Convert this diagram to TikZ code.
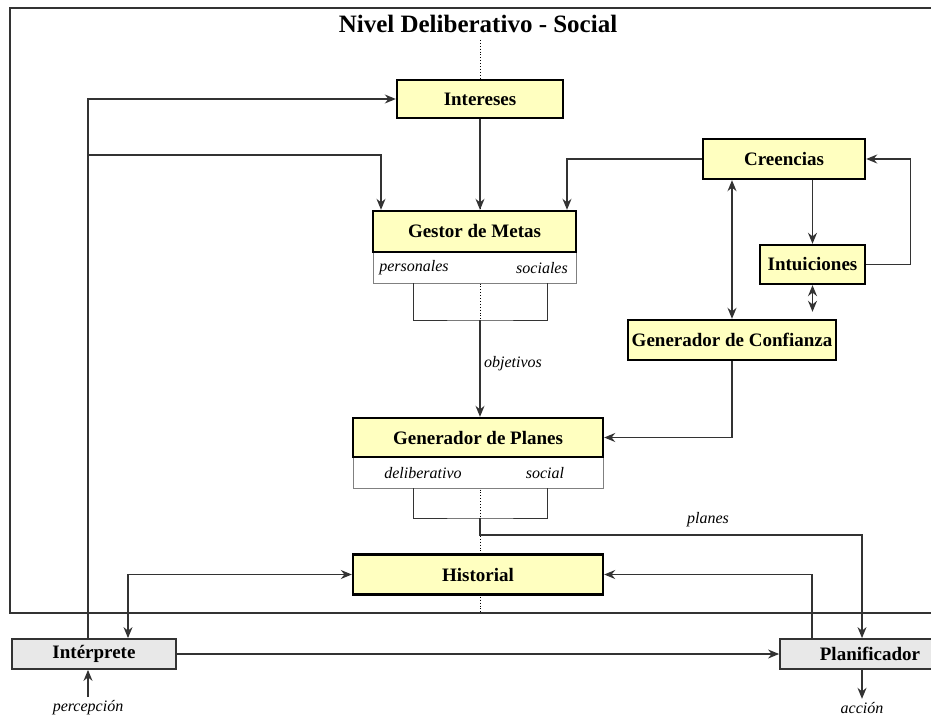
\documentclass[tikz,border=0pt]{standalone}
\usepackage{fontspec}
\setmainfont{Liberation Serif}
\usetikzlibrary{arrows.meta}
\definecolor{boxyellow}{HTML}{FFFFC0}
\definecolor{boxgrey}{HTML}{E8E8E8}
\definecolor{linegrey}{HTML}{333333}
\begin{document}
\begin{tikzpicture}[x=1pt, y=-1pt,
    yellowbox/.style={draw=black, line width=2.4pt, fill=boxyellow, inner sep=0pt,
      font=\fontsize{19}{21}\selectfont\bfseries},
    greybox/.style={draw=linegrey, line width=1.8pt, fill=boxgrey, inner sep=0pt,
      font=\fontsize{19}{21}\selectfont\bfseries},
    subbox/.style={draw=gray, line width=1pt, fill=white, inner sep=0pt},
    sublabel/.style={font=\fontsize{16}{18}\selectfont\itshape},
    wire/.style={draw=linegrey, line width=1.3pt},
    link/.style={wire, -{Stealth[length=11pt,width=9pt]}},
    twolink/.style={wire, {Stealth[length=11pt,width=9pt]}-{Stealth[length=11pt,width=9pt]}}]
  \useasboundingbox (0,0) rectangle (931,719);
  \clip (0,0) rectangle (931,719);

  % marco del nivel
  \draw[wire, line width=1.5pt] (10,8) rectangle (960,613);
  \node[font=\fontsize{25}{27}\selectfont\bfseries] (titulo) at (478,24) {Nivel Deliberativo - Social};
  \draw[dotted, line width=0.9pt] (480,40) -- (480,612);

  % cajas
  \node[yellowbox, minimum width=166pt, minimum height=38pt] (intereses) at (480,99) {Intereses};
  \node[subbox, minimum width=203pt, minimum height=31pt] (gestorsub) at (474.5,267.5) {};
  \node[yellowbox, minimum width=203pt, minimum height=41pt] (gestor) at (474.5,231.5) {Gestor de Metas};
  \node[sublabel] (personales) at (414,268) {personales};
  \node[sublabel] (sociales) at (542,268) {sociales};

  \node[yellowbox, minimum width=162pt, minimum height=40pt] (creencias) at (784,159) {Creencias};
  \node[yellowbox, minimum width=105pt, minimum height=39pt] (intuiciones) at (812.5,264.5) {Intuiciones};
  \node[yellowbox, minimum width=208pt, minimum height=40pt] (confianza) at (732,340) {Generador de Confianza};

  \node[subbox, minimum width=250pt, minimum height=31pt] (planessub) at (478,472.5) {};
  \node[yellowbox, minimum width=250pt, minimum height=39pt] (planes) at (478,437.5) {Generador de Planes};
  \node[sublabel] (deliberativo) at (423,473) {deliberativo};
  \node[sublabel] (social) at (545,473) {social};

  \node[yellowbox, minimum width=250pt, minimum height=40pt] (historial) at (478,574.5) {Historial};
  \node[greybox, minimum width=164pt, minimum height=30pt] (interprete) at (94,654) {Intérprete};
  \node[greybox, minimum width=180pt, minimum height=30pt] (planificador) at (870,654) {Planificador};

  \node[sublabel] (percepcion) at (88,708) {percepción};
  \node[sublabel] (accion) at (862,708) {acción};

  % conexiones
  \coordinate (tronco) at (88,155);
  \draw[link] (interprete.north -| tronco) |- (intereses.west);
  \draw[link] (tronco) -| (gestor.north -| 381,0);
  \draw[link] (intereses.south) -- (intereses.south |- gestor.north);
  \draw[link] (creencias.west) -| (gestor.north -| 567,0);
  \draw[link] (creencias.south -| intuiciones) -- (intuiciones.north);
  \draw[link] (intuiciones.east) -- ++(44,0) |- (creencias.east);
  \draw[twolink] (creencias.south -| confianza) -- (confianza.north);
  \draw[twolink, shorten >=7pt] (intuiciones.south) -- (intuiciones.south |- confianza.north);
  \draw[link] (confianza.south) |- (planes.east);

  \coordinate (gbrk) at (480,320);
  \draw[wire, line width=1pt] (413,283) |- (gbrk) -| (547,283);
  \draw[link] (gbrk) -- (gbrk |- planes.north);
  \node[sublabel] (objetivos) at (513,364) {objetivos};

  \coordinate (pbrk) at (480,518);
  \draw[wire, line width=1pt] (413,488) |- (pbrk) -| (547,488);
  \draw[link] (pbrk) -- (480,535) -| (planificador.north -| 862,0);
  \node[sublabel] (planeslbl) at (708,520) {planes};

  \draw[link] (planificador.north -| 812,0) |- (historial.east);
  \draw[twolink] (historial.west) -| (interprete.north -| 128,0);
  \draw[link] (interprete.east) -- (planificador.west);
  \draw[link] (percepcion.north) -- (interprete.south -| percepcion);
  \draw[link] (planificador.south -| accion) -- (accion.north);
\end{tikzpicture}
\end{document}
